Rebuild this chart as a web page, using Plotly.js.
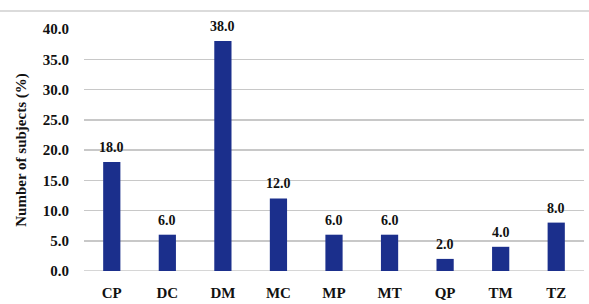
<!DOCTYPE html>
<html><head><meta charset="utf-8">
<script src="https://cdn.plot.ly/plotly-3.0.1.min.js"></script>
<style>html,body{margin:0;padding:0;background:#fff;}#c{width:589px;height:304px;}</style>
</head><body><div id="c"></div>
<script>
const categories = ["CP","DC","DM","MC","MP","MT","QP","TM","TZ"];
const values = [18.0, 6.0, 38.0, 12.0, 6.0, 6.0, 2.0, 4.0, 8.0];
const yTicks = [0,5,10,15,20,25,30,35,40];
const yTickLabels = ["0.0","5.0","10.0","15.0","20.0","25.0","30.0","35.0","40.0"];

const serif = "Liberation Serif, DejaVu Serif, serif";
const trace = {
  type: "bar", x: categories, y: values,
  marker: {color: "#1B2F8C"},
  hoverinfo: "none"
};
const labels = categories.map((c, i) => ({
  x: c, y: values[i], xref: "x", yref: "y",
  text: values[i].toFixed(1), showarrow: false,
  yanchor: "bottom", yshift: 5,
  font: {family: serif, size: 14, color: "#111", weight: "bold"}
}));
const layout = {
  width: 589, height: 304,
  margin: {l: 84, r: 5, t: 29, b: 33},
  paper_bgcolor: "#fff", plot_bgcolor: "#fff",
  bargap: 0.69,
  showlegend: false,
  font: {family: serif, color: "#111"},
  xaxis: {
    type: "category", showgrid: false, zeroline: false, showline: false,
    ticks: "", tickfont: {family: serif, size: 15, weight: "bold", color: "#111"},
    ticklabelstandoff: 11
  },
  yaxis: {
    range: [0, 40], tickvals: yTicks, ticktext: yTickLabels,
    showgrid: true, gridcolor: "#c8c8c8", gridwidth: 1.5, zeroline: false, showline: false,
    ticks: "", tickfont: {family: serif, size: 15, weight: "bold", color: "#111"},
    ticklabelstandoff: 14,
    title: {text: "Number of subjects (%)", font: {family: serif, size: 15, weight: "bold", color: "#111"}, standoff: 12}
  },
  annotations: labels,
  shapes: [
    {type: "line", xref: "paper", yref: "paper", x0: -0.168, x1: 1.01, y0: 1.0744, y1: 1.0744,
     line: {color: "#cfcfcf", width: 1.5}},
    {type: "line", xref: "paper", yref: "y", x0: 0, x1: 1, y0: 0, y1: 0,
     line: {color: "#c8c8c8", width: 1.5}, layer: "below"}
  ]
};
Plotly.newPlot("c", [trace], layout, {staticPlot: true, displayModeBar: false});
</script></body></html>
